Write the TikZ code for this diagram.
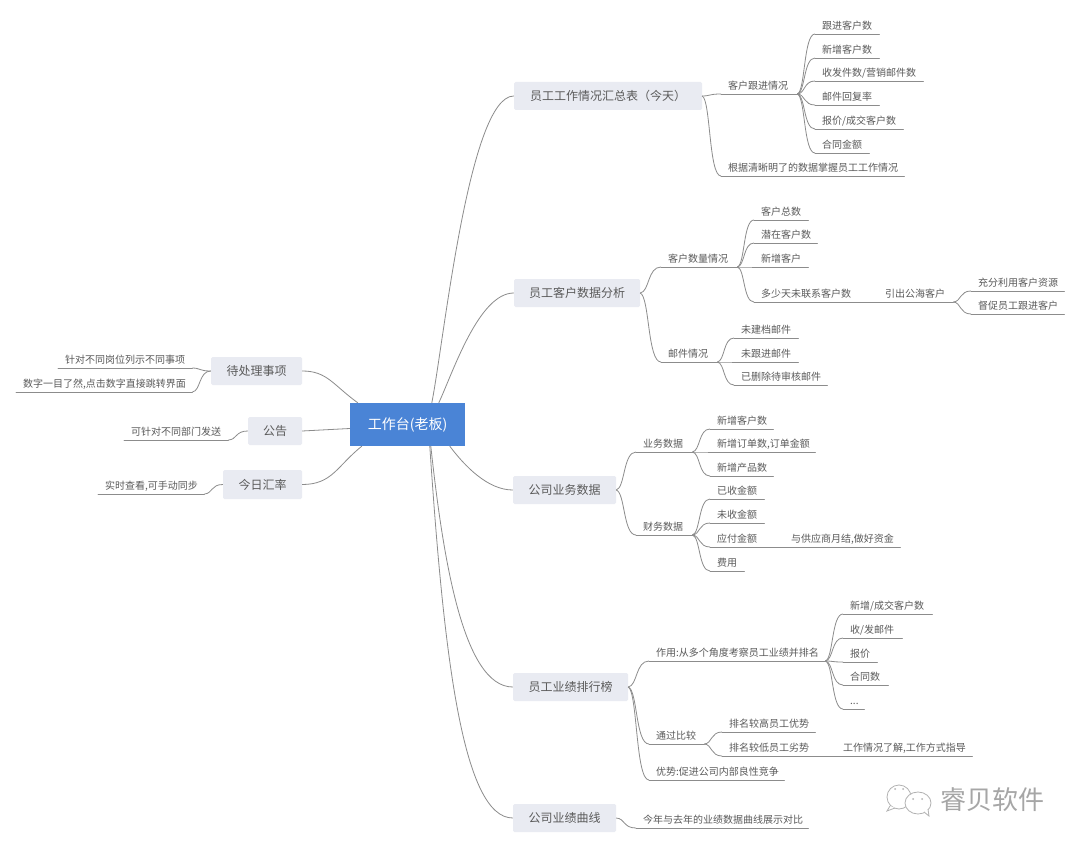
\documentclass[tikz,border=0pt]{standalone}
\usepackage{fontspec}
\setmainfont{Noto Sans CJK SC}
\usetikzlibrary{calc}
\definecolor{boxfill}{HTML}{E9EBF2}
\definecolor{rootblue}{HTML}{4A84D6}
\definecolor{inkgray}{HTML}{5A5A5A}
\definecolor{linegray}{HTML}{8C8C8C}
\tikzset{
  mainbox/.style={fill=boxfill,rounded corners=1.5pt,font=\fontsize{12}{14}\selectfont,text=inkgray,inner sep=0pt,anchor=center},
  rootbox/.style={fill=rootblue,font=\fontsize{14}{16}\selectfont,text=white,inner sep=0pt},
  leafbox/.style={font=\fontsize{10}{12}\selectfont,text=inkgray,inner xsep=7pt,inner ysep=2pt,text height=9pt,text depth=2pt},
  link/.style={draw=linegray,line width=0.8pt},
  rule/.style={draw=linegray,line width=0.8pt,line cap=round},
  wmline/.style={draw=black!30,line width=0.8pt,fill=white}
}
% box: name, x1, y1, x2, y2, text
\newcommand{\mainnode}[6]{\node[mainbox,minimum width=#4-#2,minimum height=#5-#3] (#1) at ({(#2+#4)/2},{(#3+#5)/2}) {\raisebox{-0.8pt}{#6}};}
% leaf, right-growing: name, xl, xr, y, text
\newcommand{\rleaf}[5]{\pgfmathsetmacro{\lw}{#3-#2-14}
  \node[leafbox,anchor=south west,text width=\lw pt,align=left] (#1) at (#2,#4) {#5};
  \draw[rule] (#1.south west) -- (#1.south east);}
\newcommand{\lleaf}[5]{\pgfmathsetmacro{\lw}{#3-#2-14}
  \node[leafbox,anchor=south west,text width=\lw pt,align=right] (#1) at (#2,#4) {#5};
  \draw[rule] (#1.south west) -- (#1.south east);}
% curved link from point a to point b
\newcommand{\curvelink}[2]{\draw[link] let \p1=(#1),\p2=(#2),\n1={\x2-\x1},\n2={\y2-\y1} in
  (\p1) .. controls (\x1+0.45*\n1,\y1+0.05*\n2) and (\x1+0.35*\n1,\y2) .. (\p2);}
\begin{document}
\begin{tikzpicture}[x=1pt,y=-1pt]
\useasboundingbox (0,0) rectangle (1080,848);
\fill[white] (0,0) rectangle (1080,848);
% root and main
\node[rootbox,minimum width=115,minimum height=43] (root) at (407.5,424.5) {工作台(老板)};
\mainnode{m1}{514}{82}{702}{110}{员工工作情况汇总表（今天）}
\mainnode{m2}{514}{279}{640}{307}{员工客户数据分析}
\mainnode{m3}{513}{476}{616}{504}{公司业务数据}
\mainnode{m4}{513}{673}{628}{701}{员工业绩排行榜}
\mainnode{m5}{513}{804}{616}{832}{公司业绩曲线}
\mainnode{l1}{211}{357}{302}{385}{待处理事项}
\mainnode{l2}{248}{417}{302}{445}{公告}
\mainnode{l3}{223}{470}{302}{499}{今日汇率}
% root links
\draw[link] ($(root.north west)+(82,0)$) .. controls +(12,-60) and +(-45,0) .. (m1.west);
\draw[link] ($(root.north west)+(89,0)$) .. controls +(14,-30) and +(-35,0) .. (m2.west);
\draw[link] ($(root.south west)+(100,0)$) .. controls +(15,20) and +(-25,0) .. (m3.west);
\draw[link] ($(root.south west)+(81,0)$) .. controls +(12,110) and +(-50,0) .. (m4.west);
\draw[link] ($(root.south west)+(80,0)$) .. controls +(14,210) and +(-50,0) .. (m5.west);
\draw[link] (l1.east) .. controls +(25,0) and +(-25,-18) .. ($(root.north west)+(8,0)$);
\draw[link] (l2.east) -- ($(root.west)+(0,4)$);
\draw[link] (l3.east) .. controls +(30,0) and +(-25,20) .. ($(root.south west)+(12,0)$);
% left leaves
\lleaf{a1}{58}{192}{368}{针对不同岗位列示不同事项}
\lleaf{a2}{16}{192}{392}{数字一目了然,点击数字直接跳转界面}
\lleaf{a3}{124}{228}{440}{可针对不同部门发送}
\lleaf{a4}{98}{204}{494}{实时查看,可手动同步}
\curvelink{a1.south east}{l1.west}
\curvelink{a2.south east}{l1.west}
\curvelink{a3.south east}{l2.west}
\curvelink{a4.south east}{l3.west}
% group 1
\rleaf{b1}{721}{797}{94}{客户跟进情况}
\rleaf{b2}{721}{904}{176}{根据清晰明了的数据掌握员工工作情况}
\curvelink{m1.east}{b1.south west}
\curvelink{m1.east}{b2.south west}
\rleaf{b11}{815}{879}{34}{跟进客户数}
\rleaf{b12}{815}{879}{58}{新增客户数}
\rleaf{b13}{815}{923}{81}{收发件数/营销邮件数}
\rleaf{b14}{815}{879}{105}{邮件回复率}
\rleaf{b15}{815}{903}{129}{报价/成交客户数}
\rleaf{b16}{815}{869}{153}{合同金额}
\foreach \c in {b11,b12,b13,b14,b15,b16}{\curvelink{b1.south east}{\c.south west}}
% group 2
\rleaf{c1}{661}{737}{267}{客户数量情况}
\rleaf{c2}{661}{717}{362}{邮件情况}
\curvelink{m2.east}{c1.south west}
\curvelink{m2.east}{c2.south west}
\rleaf{c11}{754}{808}{220}{客户总数}
\rleaf{c12}{754}{817}{243}{潜在客户数}
\rleaf{c13}{754}{808}{267}{新增客户}
\rleaf{c14}{754}{866}{302}{多少天未联系客户数}
\foreach \c in {c11,c12,c13,c14}{\curvelink{c1.south east}{\c.south west}}
\rleaf{c15}{878}{953}{302}{引出公海客户}
\draw[link] (c14.south east) -- (c15.south west);
\rleaf{c16}{971}{1064}{291}{充分利用客户资源}
\rleaf{c17}{971}{1064}{314}{督促员工跟进客户}
\curvelink{c15.south east}{c16.south west}
\curvelink{c15.south east}{c17.south west}
\rleaf{c21}{734}{798}{338}{未建档邮件}
\rleaf{c22}{734}{798}{362}{未跟进邮件}
\rleaf{c23}{734}{827}{385}{已删除待审核邮件}
\foreach \c in {c21,c22,c23}{\curvelink{c2.south east}{\c.south west}}
% group 3
\rleaf{d1}{636}{692}{452}{业务数据}
\rleaf{d2}{636}{692}{535}{财务数据}
\curvelink{m3.east}{d1.south west}
\curvelink{m3.east}{d2.south west}
\rleaf{d11}{710}{773}{429}{新增客户数}
\rleaf{d12}{710}{815}{452}{新增订单数,订单金额}
\rleaf{d13}{710}{773}{476}{新增产品数}
\foreach \c in {d11,d12,d13}{\curvelink{d1.south east}{\c.south west}}
\rleaf{d21}{710}{764}{499}{已收金额}
\rleaf{d22}{710}{764}{523}{未收金额}
\rleaf{d23}{710}{764}{547}{应付金额}
\rleaf{d24}{710}{744}{571}{费用}
\foreach \c in {d21,d22,d23,d24}{\curvelink{d2.south east}{\c.south west}}
\rleaf{d25}{784}{900}{547}{与供应商月结,做好资金}
\draw[link] (d23.south east) -- (d25.south west);
% group 4
\rleaf{e1}{649}{825}{661}{作用:从多个角度考察员工业绩并排名}
\rleaf{e2}{649}{704}{744}{通过比较}
\rleaf{e3}{649}{784}{780}{优势:促进公司内部良性竞争}
\foreach \c in {e1,e2,e3}{\curvelink{m4.east}{\c.south west}}
\rleaf{e11}{843}{932}{614}{新增/成交客户数}
\rleaf{e12}{843}{902}{638}{收/发邮件}
\rleaf{e13}{843}{877}{662}{报价}
\rleaf{e14}{843}{888}{685}{合同数}
\rleaf{e15}{843}{864}{709}{...}
\foreach \c in {e11,e12,e13,e14,e15}{\curvelink{e1.south east}{\c.south west}}
\rleaf{e21}{722}{815}{732}{排名较高员工优势}
\rleaf{e22}{722}{816}{756}{排名较低员工劣势}
\curvelink{e2.south east}{e21.south west}
\curvelink{e2.south east}{e22.south west}
\rleaf{e23}{836}{972}{756}{工作情况了解,工作方式指导}
\draw[link] (e22.south east) -- (e23.south west);
% group 5
\rleaf{f1}{636}{808}{828}{今年与去年的业绩数据曲线展示对比}
\curvelink{m5.east}{f1.south west}
% watermark
\draw[wmline] (899,797) ellipse (12 and 12);
\draw[wmline] (890,806) -- (887,811) -- (895,808);
\draw[wmline] (918,803) ellipse (13 and 11);
\draw[wmline] (924,812) -- (929,816) -- (928,809);
\fill[black!30] (895,789) circle (1) (903,789) circle (1) (913,799) circle (1) (922,799) circle (1);
\node[font=\fontsize{26}{28}\selectfont,text=black!35] (wm) at (992,800) {睿贝软件};
\end{tikzpicture}
\end{document}
